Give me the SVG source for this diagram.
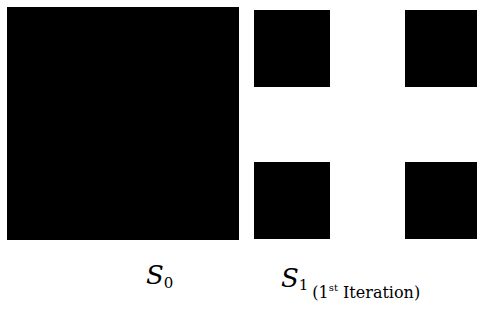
<svg xmlns="http://www.w3.org/2000/svg" width="477" height="324" viewBox="0 0 477 324">
<style>
.sq{fill:#000}
text{fill:#000;font-family:'DejaVu Serif',serif}
.it{font-style:italic}
</style>
<rect width="477" height="324" fill="#fff"/>
<g id="s0"><rect class="sq" x="7" y="7" width="232" height="233"/></g>
<g id="s1-tl"><rect class="sq" x="254" y="10" width="76" height="77"/></g>
<g id="s1-tr"><rect class="sq" x="405" y="10" width="72" height="77"/></g>
<g id="s1-bl"><rect class="sq" x="254" y="162" width="76" height="77"/></g>
<g id="s1-br"><rect class="sq" x="405" y="162" width="72" height="77"/></g>
<g id="labels">
<text x="146" y="284"><tspan class="it" font-size="26">S</tspan><tspan font-size="15" dy="4">0</tspan></text>
<text x="281" y="287"><tspan class="it" font-size="26">S</tspan><tspan font-size="15" dy="3">1</tspan><tspan font-size="16" dx="4" dy="8">(1</tspan><tspan font-size="10" dy="-7">st</tspan><tspan font-size="16" dy="7"> Iteration)</tspan></text>
</g>
</svg>
